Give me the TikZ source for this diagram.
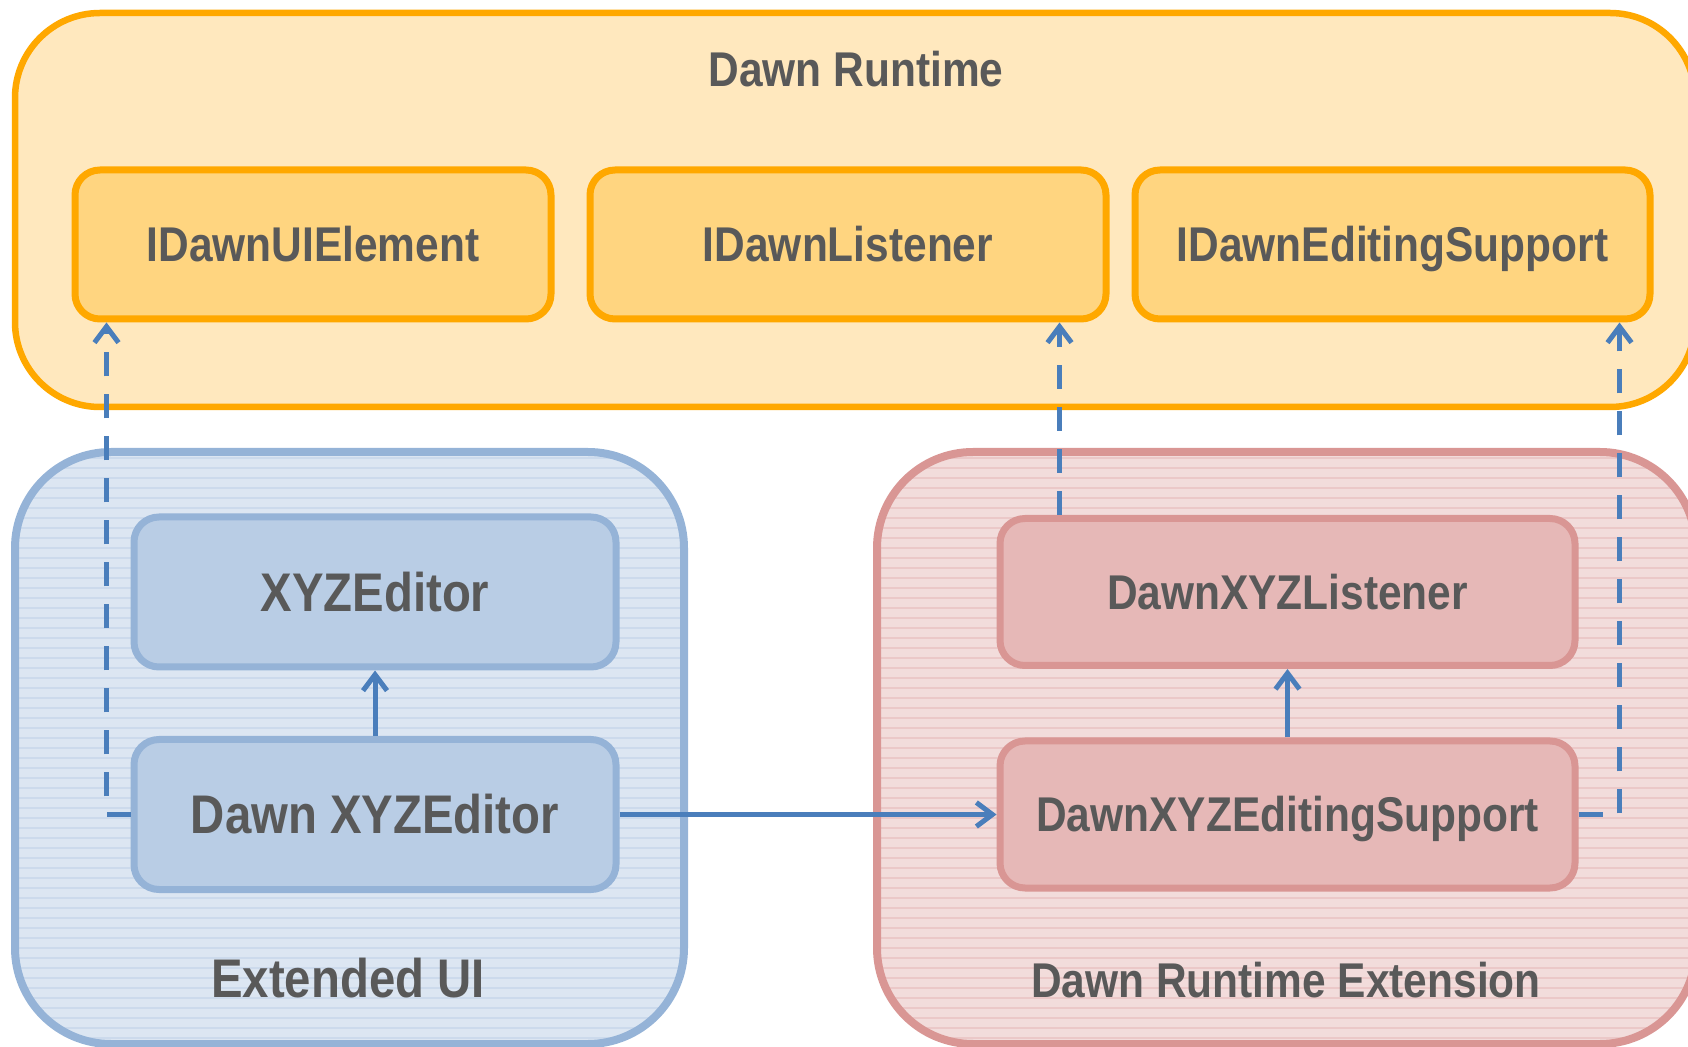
\documentclass[tikz,border=0pt]{standalone}
\usepackage{fontspec}
\setmainfont{Liberation Sans}[FakeStretch=0.87]
\usepackage{tikz}
\usetikzlibrary{arrows.meta}

\tikzset{
  box/.style={rectangle,rounded corners=12.5pt,line width=3.5pt,inner sep=0pt,
    text=textColor,font=\fontsize{24.4}{29}\bfseries\selectfont,
    text height=22.5pt,text depth=5pt},
  boxbig/.style={box,font=\fontsize{27.2}{32}\bfseries\selectfont,
    text height=24.5pt,text depth=5pt},
  rtbox/.style={box,draw=rtBorder,fill=rtInner,minimum height=74.5pt},
  uibox/.style={boxbig,draw=uiBorder,fill=uiInner,minimum width=241pt,minimum height=75pt},
  extbox/.style={box,draw=extBorder,fill=extInner,minimum width=287.5pt,minimum height=73.5pt},
  grouplabel/.style={inner sep=0pt,text=textColor,font=\fontsize{24.4}{29}\bfseries\selectfont},
  uses/.style={draw=arrowColor,line width=2.5pt,-{Straight Barb[length=8pt,width=12pt]}},
  implements/.style={uses,dash pattern=on 12pt off 9pt}
}

\begin{document}
\begin{tikzpicture}[x=0.5pt,y=-0.5pt]
\definecolor{textColor}{RGB}{89,89,89}
\definecolor{arrowColor}{RGB}{74,126,187}
\definecolor{rtBorder}{RGB}{255,168,0}
\definecolor{rtOuter}{RGB}{255,232,190}
\definecolor{rtInner}{RGB}{255,213,128}
\definecolor{uiBorder}{RGB}{149,179,215}
\definecolor{uiOuter}{RGB}{220,230,242}
\definecolor{uiInner}{RGB}{185,205,229}
\definecolor{uiStripe}{RGB}{204,218,236}
\definecolor{extBorder}{RGB}{217,150,148}
\definecolor{extOuter}{RGB}{242,220,219}
\definecolor{extInner}{RGB}{230,184,183}
\definecolor{extStripe}{RGB}{235,200,200}
\useasboundingbox (0,0) rectangle (1688,1047);
\begin{scope}
\clip (0,0) rectangle (1688,1047);

% Dawn Runtime
\path[draw=rtBorder,fill=rtOuter,line width=3.25pt,rounded corners=42.5pt] (15,13) rectangle (1695,407);
\node[grouplabel] (rtlabel) at (856,69) {Dawn Runtime};

% Extended UI
\path[fill=uiOuter,rounded corners=48pt] (15,452) rectangle (684,1044);
\begin{scope}
\clip[rounded corners=48pt] (15,452) rectangle (684,1044);
\foreach \y in {458,468,...,1040}
  \path[draw=uiStripe,line width=0.6pt] (15,\y) -- (684,\y);
\end{scope}
\path[draw=uiBorder,line width=4pt,rounded corners=48pt] (15,452) rectangle (684,1044);
\node[grouplabel,font=\fontsize{27.2}{32}\bfseries\selectfont] (uilabel) at (348,978) {Extended UI};

% Dawn Runtime Extension
\path[fill=extOuter,rounded corners=48pt] (877,452) rectangle (1696,1044);
\begin{scope}
\clip[rounded corners=48pt] (877,452) rectangle (1696,1044);
\foreach \y in {458,468,...,1040}
  \path[draw=extStripe,line width=0.6pt] (877,\y) -- (1696,\y);
\end{scope}
\path[draw=extBorder,line width=4pt,rounded corners=48pt] (877,452) rectangle (1696,1044);
\node[grouplabel] (extlabel) at (1286,980) {Dawn Runtime Extension};

% interfaces
\node[rtbox,minimum width=238pt] (uielem) at (313,244.5) {IDawnUIElement};
\node[rtbox,minimum width=258pt] (listener) at (848,244.5) {IDawnListener};
\node[rtbox,minimum width=257.5pt] (editsup) at (1392.5,244.5) {IDawnEditingSupport};

% editors
\node[uibox] (xyzed) at (375,592) {XYZEditor};
\node[uibox] (dawned) at (375,814.5) {Dawn XYZEditor};

% extension
\node[extbox] (xyzlis) at (1287.5,592) {DawnXYZListener};
\node[extbox] (xyzes) at (1287.5,814.5) {DawnXYZEditingSupport};

% connectors
\draw[uses] (dawned.north) -- (xyzed.south);
\draw[uses] (xyzes.north) -- (xyzlis.south);
\draw[uses] (dawned.east) -- (xyzes.west);
\draw[implements] (dawned.west) -| ([xshift=17.5pt]uielem.south west);
\draw[implements] ([xshift=31.5pt]xyzlis.north west) -- ([xshift=31.5pt]xyzlis.north west |- listener.south);
\draw[implements] (xyzes.east) -| ([xshift=-17pt]editsup.south east);
\end{scope}
\end{tikzpicture}
\end{document}
